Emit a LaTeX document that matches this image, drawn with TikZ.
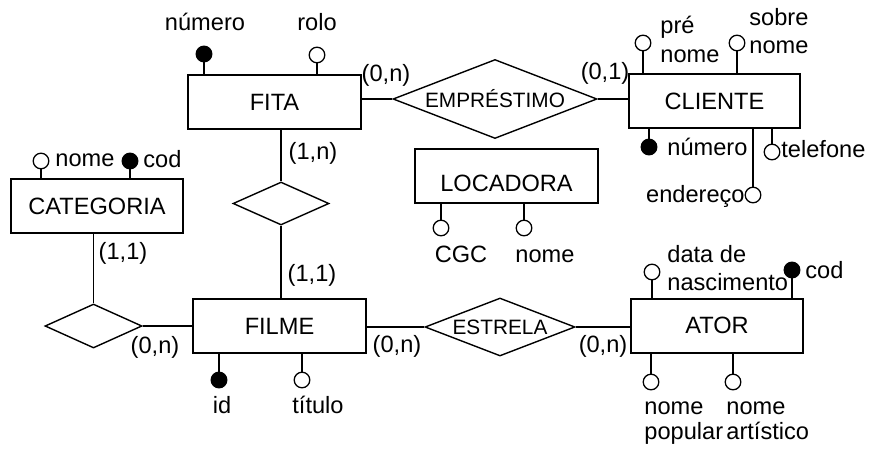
\documentclass[tikz,border=0pt]{standalone}
\usepackage{fontspec}
\setmainfont{Liberation Sans}
\usetikzlibrary{shapes.geometric,positioning}

\tikzset{
  entity/.style={draw, line width=1pt, minimum width=86.5pt, minimum height=27pt, inner sep=0pt},
  relation/.style={draw, diamond, line width=0.7pt, inner sep=0pt, font=\fontsize{10.4}{12}\selectfont},
  attr/.style={draw, circle, line width=0.65pt, minimum size=7.8pt, inner sep=0pt},
  link/.style={line width=0.7pt},
  stem/.style={line width=0.9pt},
  card/.style={inner sep=0pt},
  lbl/.style={inner sep=0pt, align=left},
}

\begin{document}
\begin{tikzpicture}[x=0.5pt, y=-0.5pt, font=\fontsize{11.8}{14}\selectfont]
\useasboundingbox (0,0) rectangle (870,449);

% entidades
\node[entity] (fita) at (274.5,102) {FITA};
\node[entity, minimum width=85.5pt] (cliente) at (714.5,101) {CLIENTE};
\node[entity, minimum width=86pt] (categoria) at (97,206) {CATEGORIA};
\node[entity, minimum width=91.5pt, text height=15.4pt, text depth=0pt] (locadora) at (506.5,176) {LOCADORA};
\node[entity] (filme) at (279.5,326) {FILME};
\node[entity, minimum width=86pt] (ator) at (717,325.5) {ATOR};

% relacionamentos
\node[relation, minimum width=102pt, minimum height=39.5pt, aspect=2.6] (emprestimo) at (495,99) {EMPRÉSTIMO};
\node[relation, minimum width=75pt, minimum height=29pt, aspect=2.6] (estrela) at (500,327) {ESTRELA};
\node[relation, minimum width=48.5pt, minimum height=22pt] (genero) at (93.5,326) {};
\node[relation, minimum width=48pt, minimum height=21.5pt] (copia) at (281,203.5) {};

\draw[link] (emprestimo.west) -- (emprestimo.west -| fita.east);
\draw[link] (emprestimo.east) -- (emprestimo.east -| cliente.west);
\draw[link] (copia.north) -- (copia.north |- fita.south);
\draw[link] (copia.south) -- (copia.south |- filme.north);
\draw[link] (genero.north) -- (genero.north |- categoria.south);
\draw[link] (genero.east) -- (genero.east -| filme.west);
\draw[link] (estrela.west) -- (estrela.west -| filme.east);
\draw[link] (estrela.east) -- (estrela.east -| ator.west);

% cardinalidades
\node[card] (cfita) at (386,75) {(0,n)};
\node[card] (ccliente) at (605,73) {(0,1)};
\node[card] (ccopia) at (313,153) {(1,n)};
\node[card] (cfilme) at (312,275) {(1,1)};
\node[card] (ccategoria) at (123,253) {(1,1)};
\node[card] (cgenero) at (155,347) {(0,n)};
\node[card] (cestrela) at (397,346) {(0,n)};
\node[card] (cator) at (603,346) {(0,n)};

% atributos
\foreach \nm/\cx/\cy/\fl/\ent/\side in {
    fnum/204/54/black/fita/north, frolo/317/55/white/fita/north,
    cpre/643/43/white/cliente/north, csob/737/43/white/cliente/north,
    cnum/649/147/black/cliente/south, cend/753/195/white/cliente/south,
    ctel/772/152/white/cliente/south,
    gnome/41/161/white/categoria/north, gcod/130/161/black/categoria/north,
    lcgc/441/228/white/locadora/south, lnome/524/228/white/locadora/south,
    mid/219/380/black/filme/south, mtit/302/380/white/filme/south,
    adata/652/272/white/ator/north, acod/792/270/black/ator/north,
    apop/651/382/white/ator/south, aart/733/382/white/ator/south}
  {
    \node[attr, fill=\fl] (\nm) at (\cx,\cy) {};
    \draw[stem] (\nm) -- (\nm |- \ent.\side);
  }

\node[lbl] (tfnum) at (205,22) {número};
\node[lbl] (tfrolo) at (317,22) {rolo};
\node[lbl, anchor=base west] (tcpre) at (660,62) {pré\\nome};
\node[lbl, anchor=base west] (tcsob) at (749,54) {sobre\\nome};
\node[lbl, anchor=base west] (tcnum) at (667,155) {número};
\node[lbl, anchor=base east] (tcend) at (745,202) {endereço};
\node[lbl, anchor=base west] (tctel) at (781,157) {telefone};
\node[lbl, anchor=base west] (tgnome) at (55,166) {nome};
\node[lbl, anchor=base west] (tgcod) at (143,167) {cod};
\node[lbl, anchor=base] (tlcgc) at (461,262) {CGC};
\node[lbl, anchor=base] (tlnome) at (545,262) {nome};
\node[lbl, anchor=base] (tmid) at (222,413) {id};
\node[lbl, anchor=base] (tmtit) at (318,413) {título};
\node[lbl, anchor=base west] (tadata) at (667,290) {data de\\nascimento};
\node[lbl, anchor=base west] (tacod) at (805,278) {cod};
\node[lbl, anchor=base west, font=\fontsize{11.8}{12.5}\selectfont] (tapop) at (644,439) {nome\\popular};
\node[lbl, anchor=base west, font=\fontsize{11.8}{12.5}\selectfont] (taart) at (726,439) {nome\\artístico};

\end{tikzpicture}
\end{document}
